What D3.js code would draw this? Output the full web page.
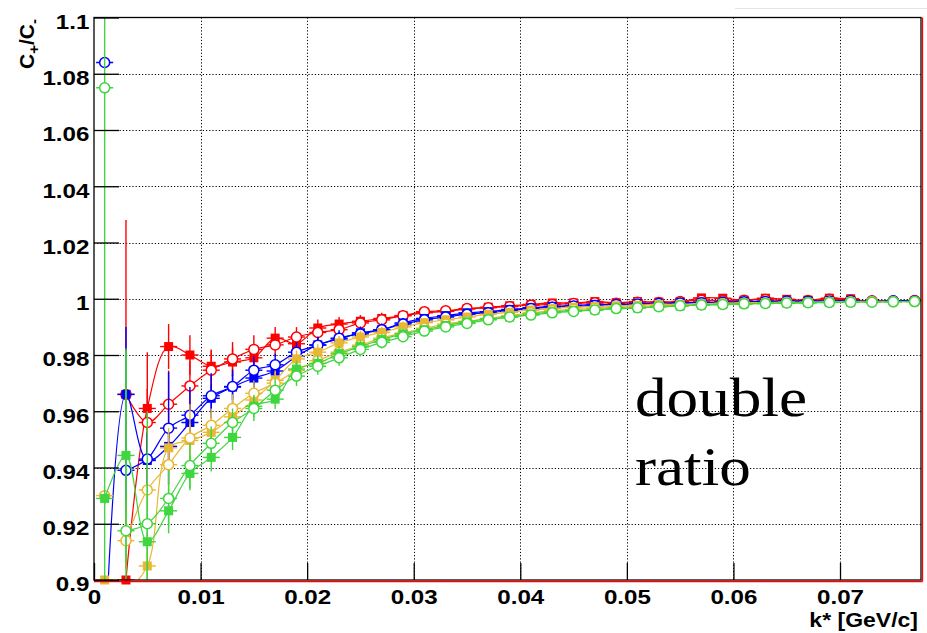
<!DOCTYPE html>
<html lang="en">
<head>
<meta charset="UTF-8">
<title>Double ratio C+/C-</title>
<style>
  body { margin: 0; background: #fff; overflow: hidden; }
  svg { display: block; }
  .axis text { font-family: "Liberation Sans", Arial, sans-serif; font-weight: bold; font-size: 21px; fill: #000; }
  .grid line { stroke: #000; stroke-width: 1; stroke-dasharray: 1.2,2; }
</style>
</head>
<body>
<script src="https://cdnjs.cloudflare.com/ajax/libs/d3/7.8.5/d3.min.js"></script>
<script>
// bin centres of k* [GeV/c]
const kBins = [
  0.001, 0.003, 0.005, 0.007, 0.009, 0.011, 0.013, 0.015, 0.017, 0.019,
  0.021, 0.023, 0.025, 0.027, 0.029, 0.031, 0.033, 0.035, 0.037, 0.039,
  0.041, 0.043, 0.045, 0.047, 0.049, 0.051, 0.053, 0.055, 0.057, 0.059,
  0.061, 0.063, 0.065, 0.067, 0.069, 0.071, 0.073, 0.075, 0.077
];

const xTickValues = [0, 0.01, 0.02, 0.03, 0.04, 0.05, 0.06, 0.07];
const xTickLabels = ['0', '0.01', '0.02', '0.03', '0.04', '0.05', '0.06', '0.07'];
const yTickValues = [0.9, 0.92, 0.94, 0.96, 0.98, 1.0, 1.02, 1.04, 1.06, 1.08, 1.1];
const yTickLabels = ['0.9', '0.92', '0.94', '0.96', '0.98', '1', '1.02', '1.04', '1.06', '1.08', '1.1'];

// filled squares (36 bins) and open circles (39 bins)
const redSquares = [
  null, 0.900, 0.961, 0.983, 0.980, 0.976, 0.9775, 0.979, 0.986, 0.984,
  0.9896, 0.991, 0.992, 0.993, 0.994, 0.995, 0.9955, 0.9964, 0.997, 0.9975,
  0.998, 0.9985, 0.9985, 0.999, 0.9986, 0.999, 0.9988, 0.999, 1.0003, 1.0002,
  0.9995, 1.0002, 0.9998, 0.9995, 1.0002, 1.0
];
const redSquaresErr = [
  0, 0, 0.02, 0.008, 0.007, 0.006, 0.005, 0.004, 0.004, 0.003,
  0.003, 0.0025, 0.0022, 0.002, 0.0018, 0.0016, 0.0015, 0.0014, 0.0013, 0.0012,
  0.0012, 0.0011, 0.0011, 0.001, 0.001, 0.001, 0.001, 0.001, 0.001, 0.001,
  0.001, 0.001, 0.001, 0.001, 0.001, 0.001
];
const redCircles = [
  null, 0.966, 0.956, 0.9625, 0.969, 0.9746, 0.9786, 0.982, 0.9836, 0.9864,
  0.988, 0.989, 0.9914, 0.9925, 0.994, 0.9954, 0.9957, 0.9965, 0.9968, 0.9972,
  0.9977, 0.998, 0.9983, 0.9986, 0.9984, 0.9988, 0.9987, 0.999, 0.9995, 0.9993,
  0.9995, 0.9997, 0.9993, 0.9994, 0.9998, 0.9996, 0.9993, 0.9992, 0.9994
];
const redCirclesErr = [
  0, 0.062, 0.012, 0.012, 0.009, 0.007, 0.006, 0.005, 0.004, 0.0035,
  0.003, 0.0028, 0.0025, 0.0022, 0.002, 0.0018, 0.0017, 0.0016, 0.0015, 0.0014,
  0.0013, 0.0013, 0.0012, 0.0012, 0.0011, 0.0011, 0.0011, 0.001, 0.001, 0.001,
  0.001, 0.001, 0.001, 0.001, 0.001, 0.001, 0.001, 0.001, 0.001
];

const blueSquares = [
  0.870, 0.966, 0.9425, 0.9475, 0.956, 0.9646, 0.9686, 0.9718, 0.9743, 0.9795,
  0.9836, 0.9857, 0.9879, 0.989, 0.9914, 0.993, 0.994, 0.995, 0.9954, 0.9962,
  0.9968, 0.9973, 0.9976, 0.998, 0.9978, 0.9983, 0.9982, 0.9985, 0.9988, 0.9987,
  0.999, 0.9991, 0.999, 0.9992, 0.9993, 0.9994
];
const blueSquaresErr = [
  0, 0.024, 0.01, 0.008, 0.006, 0.005, 0.0045, 0.004, 0.0035, 0.003,
  0.0028, 0.0025, 0.0022, 0.002, 0.0018, 0.0016, 0.0015, 0.0014, 0.0013, 0.0012,
  0.0012, 0.0011, 0.0011, 0.001, 0.001, 0.001, 0.001, 0.001, 0.001, 0.001,
  0.001, 0.001, 0.001, 0.001, 0.001, 0.001
];
const blueCircles = [
  1.084, 0.939, 0.943, 0.954, 0.9586, 0.9655, 0.9688, 0.9746, 0.9765, 0.981,
  0.9835, 0.986, 0.9875, 0.989, 0.991, 0.9925, 0.9935, 0.9945, 0.995, 0.9958,
  0.9965, 0.997, 0.9974, 0.9976, 0.998, 0.9981, 0.9983, 0.9985, 0.9986, 0.9988,
  0.9989, 0.999, 0.9992, 0.999, 0.9992, 0.9993, 0.9991, 0.9993, 0.9992
];
const blueCirclesErr = [
  0.002, 0.01, 0.009, 0.02, 0.01, 0.008, 0.006, 0.005, 0.004, 0.0035,
  0.003, 0.0028, 0.0025, 0.0022, 0.002, 0.0018, 0.0017, 0.0016, 0.0015, 0.0014,
  0.0013, 0.0013, 0.0012, 0.0012, 0.0011, 0.0011, 0.0011, 0.001, 0.001, 0.001,
  0.001, 0.001, 0.001, 0.001, 0.001, 0.001, 0.001, 0.001, 0.001
];

const orangeSquares = [
  0.900, 0.897, 0.905, 0.947, 0.9496, 0.9525, 0.958, 0.964, 0.971, 0.9786,
  0.981, 0.9843, 0.9864, 0.988, 0.990, 0.9915, 0.9925, 0.9935, 0.9945, 0.9952,
  0.996, 0.9965, 0.997, 0.9972, 0.9975, 0.9977, 0.998, 0.998, 0.9982, 0.9984,
  0.9985, 0.9986, 0.9988, 0.9987, 0.999, 0.999
];
const orangeSquaresErr = [
  0, 0, 0.012, 0.007, 0.006, 0.005, 0.0045, 0.004, 0.0035, 0.003,
  0.0028, 0.0025, 0.0022, 0.002, 0.0018, 0.0016, 0.0015, 0.0014, 0.0013, 0.0012,
  0.0012, 0.0011, 0.0011, 0.001, 0.001, 0.001, 0.001, 0.001, 0.001, 0.001,
  0.001, 0.001, 0.001, 0.001, 0.001, 0.001
];
const orangeCircles = [
  0.930, 0.914, 0.932, 0.941, 0.9505, 0.955, 0.961, 0.9664, 0.970, 0.9745,
  0.978, 0.981, 0.9835, 0.986, 0.9878, 0.9895, 0.991, 0.992, 0.993, 0.994,
  0.995, 0.9957, 0.9962, 0.9966, 0.997, 0.9972, 0.9975, 0.9977, 0.998, 0.9981,
  0.9983, 0.9985, 0.9986, 0.9987, 0.9988, 0.9989, 0.999, 0.999, 0.999
];
const orangeCirclesErr = [
  0.002, 0.01, 0.01, 0.008, 0.012, 0.006, 0.005, 0.0045, 0.004, 0.0035,
  0.003, 0.0028, 0.0025, 0.0022, 0.002, 0.0018, 0.0017, 0.0016, 0.0015, 0.0014,
  0.0013, 0.0013, 0.0012, 0.0012, 0.0011, 0.0011, 0.0011, 0.001, 0.001, 0.001,
  0.001, 0.001, 0.001, 0.001, 0.001, 0.001, 0.001, 0.001, 0.001
];

const greenSquares = [
  0.929, 0.9443, 0.9136, 0.9246, 0.9379, 0.9436, 0.9507, 0.9618, 0.9643, 0.975,
  0.977, 0.9805, 0.983, 0.9855, 0.9875, 0.989, 0.9905, 0.9918, 0.9928, 0.9935,
  0.9945, 0.9953, 0.9958, 0.996, 0.9966, 0.9967, 0.9972, 0.9974, 0.9978, 0.998,
  0.9982, 0.9984, 0.9985, 0.9986, 0.9987, 0.9988
];
const greenSquaresErr = [
  0.002, 0.038, 0.02, 0.008, 0.006, 0.005, 0.0045, 0.004, 0.0035, 0.003,
  0.0028, 0.0025, 0.0022, 0.002, 0.0018, 0.0016, 0.0015, 0.0014, 0.0013, 0.0012,
  0.0012, 0.0011, 0.0011, 0.001, 0.001, 0.001, 0.001, 0.001, 0.001, 0.001,
  0.001, 0.001, 0.001, 0.001, 0.001, 0.001
];
const greenCircles = [
  1.075, 0.9175, 0.920, 0.929, 0.9407, 0.9486, 0.956, 0.961, 0.9675, 0.9725,
  0.976, 0.979, 0.982, 0.9845, 0.9865, 0.9885, 0.990, 0.9912, 0.9925, 0.9935,
  0.9942, 0.995, 0.9955, 0.996, 0.9965, 0.9968, 0.9972, 0.9975, 0.9978, 0.998,
  0.9982, 0.9983, 0.9985, 0.9986, 0.9987, 0.9988, 0.9988, 0.9989, 0.999
];
const greenCirclesErr = [
  0.2, 0.064, 0.04, 0.01, 0.008, 0.006, 0.005, 0.0045, 0.004, 0.0035,
  0.003, 0.0028, 0.0025, 0.0022, 0.002, 0.0018, 0.0017, 0.0016, 0.0015, 0.0014,
  0.0013, 0.0013, 0.0012, 0.0012, 0.0011, 0.0011, 0.0011, 0.001, 0.001, 0.001,
  0.001, 0.001, 0.001, 0.001, 0.001, 0.001, 0.001, 0.001, 0.001
];

const width = 927, height = 633;
const frame = { left: 94, right: 921, top: 17.5, bottom: 580 };
const xErrHalf = 0.0008;

const x = d3.scaleLinear().domain([0, 0.0776]).range([frame.left, frame.right]);
const y = d3.scaleLinear().domain([0.9, 1.1]).range([frame.bottom, frame.top]);

const series = [
  { color: '#ff0000', marker: 'square', values: redSquares, errors: redSquaresErr },
  { color: '#ff0000', marker: 'circle', values: redCircles, errors: redCirclesErr },
  { color: '#0000ff', marker: 'square', values: blueSquares, errors: blueSquaresErr },
  { color: '#0000ff', marker: 'circle', values: blueCircles, errors: blueCirclesErr },
  { color: '#e8b733', marker: 'square', values: orangeSquares, errors: orangeSquaresErr },
  { color: '#e8b733', marker: 'circle', values: orangeCircles, errors: orangeCirclesErr },
  { color: '#3fd63f', marker: 'square', values: greenSquares, errors: greenSquaresErr },
  { color: '#3fd63f', marker: 'circle', values: greenCircles, errors: greenCirclesErr }
];
series.forEach(s => {
  s.points = s.values
    .map((v, i) => ({ k: kBins[i], v: v, e: s.errors[i], i: i }))
    .filter(p => p.v !== null);
});

const svg = d3.select('body').append('svg')
  .attr('width', width)
  .attr('height', height);

svg.append('defs').append('clipPath').attr('id', 'frameClip')
  .append('rect')
  .attr('x', frame.left).attr('y', frame.top)
  .attr('width', frame.right - frame.left)
  .attr('height', frame.bottom - frame.top);

// faint remnant line top right
svg.append('line')
  .attr('x1', 735).attr('x2', width).attr('y1', 8.5).attr('y2', 8.5)
  .attr('stroke', '#e4e4e4').attr('stroke-width', 1);

// grid
const grid = svg.append('g').attr('class', 'grid');
grid.selectAll('.gx')
  .data(xTickValues.filter(d => d > 0))
  .enter().append('line')
  .attr('x1', d => Math.round(x(d)) + 0.5).attr('x2', d => Math.round(x(d)) + 0.5)
  .attr('y1', frame.top).attr('y2', frame.bottom);
grid.selectAll('.gy')
  .data(yTickValues.filter(d => d > 0.9 && d < 1.1))
  .enter().append('line')
  .attr('x1', frame.left).attr('x2', frame.right)
  .attr('y1', d => Math.round(y(d)) + 0.5).attr('y2', d => Math.round(y(d)) + 0.5);

// data
const plot = svg.append('g');
const lineGen = d3.line()
  .x(d => x(d.k))
  .y(d => y(d.v))
  .curve(d3.curveCatmullRom.alpha(0.5));

series.forEach(s => {
  const g = plot.append('g');
  const linePts = s.marker === 'circle' ? s.points.filter(p => p.i >= 1) : s.points;
  g.append('path')
    .datum(linePts)
    .attr('clip-path', 'url(#frameClip)')
    .attr('fill', 'none')
    .attr('stroke', s.color)
    .attr('stroke-width', 1.2)
    .attr('d', lineGen);

  const eb = g.append('g').attr('clip-path', 'url(#frameClip)')
    .attr('stroke', s.color).attr('stroke-width', 1.4);
  eb.selectAll('.ev')
    .data(s.points.filter(p => p.e > 0))
    .enter().append('line')
    .attr('x1', d => x(d.k)).attr('x2', d => x(d.k))
    .attr('y1', d => y(d.v - d.e)).attr('y2', d => y(d.v + d.e));
  eb.selectAll('.eh')
    .data(s.points)
    .enter().append('line')
    .attr('x1', d => x(d.k - xErrHalf)).attr('x2', d => x(d.k + xErrHalf))
    .attr('y1', d => y(d.v)).attr('y2', d => y(d.v));

  const visible = s.points.filter(p => p.v >= 0.9 && p.v <= 1.1);
  if (s.marker === 'square') {
    g.selectAll('.m')
      .data(visible)
      .enter().append('rect')
      .attr('x', d => x(d.k) - 4.5).attr('y', d => y(d.v) - 4.5)
      .attr('width', 9).attr('height', 9)
      .attr('fill', s.color);
  } else {
    g.selectAll('.m')
      .data(visible)
      .enter().append('circle')
      .attr('cx', d => x(d.k)).attr('cy', d => y(d.v))
      .attr('r', 5)
      .attr('fill', '#fff')
      .attr('stroke', s.color)
      .attr('stroke-width', 1.5);
  }
});

// frame and red overlay lines
svg.append('rect')
  .attr('x', frame.left).attr('y', frame.top)
  .attr('width', frame.right - frame.left)
  .attr('height', frame.bottom - frame.top)
  .attr('fill', 'none').attr('stroke', '#000').attr('stroke-width', 1.3);
svg.append('line')
  .attr('x1', frame.left).attr('x2', frame.right + 1.5)
  .attr('y1', frame.bottom + 1.5).attr('y2', frame.bottom + 1.5)
  .attr('stroke', '#ff0000').attr('stroke-width', 1.3);
svg.append('line')
  .attr('x1', frame.right + 1.5).attr('x2', frame.right + 1.5)
  .attr('y1', frame.top).attr('y2', frame.bottom + 1.5)
  .attr('stroke', '#ff0000').attr('stroke-width', 1.3);

// axes (ticks pointing inward, ROOT style)
const stretch = 'scale(1.15,1)';
const xAxisG = svg.append('g').attr('class', 'axis')
  .attr('transform', `translate(0,${frame.bottom})`);
xAxisG.call(d3.axisBottom(x).tickValues(x.ticks(39)).tickSizeInner(-8.5).tickSizeOuter(0).tickFormat(''));
xAxisG.call(d3.axisBottom(x).tickValues(xTickValues)
  .tickSizeInner(-17).tickSizeOuter(0).tickPadding(9)
  .tickFormat((d, i) => xTickLabels[i]));
xAxisG.selectAll('.domain').remove();
xAxisG.selectAll('line').attr('stroke', '#000').attr('stroke-width', 1.3);
xAxisG.selectAll('text').attr('transform', stretch);

const yAxisG = svg.append('g').attr('class', 'axis')
  .attr('transform', `translate(${frame.left},0)`);
yAxisG.call(d3.axisLeft(y).tickValues(y.ticks(40)).tickSizeInner(-12.5).tickSizeOuter(0).tickFormat(''));
yAxisG.call(d3.axisLeft(y).tickValues(yTickValues)
  .tickSizeInner(-25).tickSizeOuter(0).tickPadding(4)
  .tickFormat((d, i) => yTickLabels[i]));
yAxisG.selectAll('.domain').remove();
yAxisG.selectAll('line').attr('stroke', '#000').attr('stroke-width', 1.3);
yAxisG.selectAll('text').attr('dy', '0.52em').attr('transform', stretch);

// axis titles
svg.append('text')
  .attr('transform', `translate(918,627) ${stretch}`)
  .attr('text-anchor', 'end')
  .style('font-family', '"Liberation Sans", Arial, sans-serif')
  .style('font-weight', 'bold').style('font-size', '20px')
  .text('k* [GeV/c]');

const yTitle = svg.append('text')
  .attr('transform', 'translate(34,19) rotate(-90)')
  .attr('text-anchor', 'end')
  .style('font-family', '"Liberation Sans", Arial, sans-serif')
  .style('font-weight', 'bold').style('font-size', '21px');
yTitle.append('tspan').text('C');
yTitle.append('tspan').attr('dy', 5).style('font-size', '15px').text('+');
yTitle.append('tspan').attr('dy', -5).text('/C');
yTitle.append('tspan').attr('dy', 5).style('font-size', '15px').text('-');

// annotation
const note = svg.append('text')
  .attr('transform', 'translate(635,0) scale(1.15,1)')
  .style('font-family', '"Liberation Serif", "Times New Roman", serif')
  .style('font-size', '55px')
  .attr('fill', '#000');
note.append('tspan').attr('x', 0).attr('y', 416).text('double');
note.append('tspan').attr('x', 0).attr('y', 485).text('ratio');
</script>
</body>
</html>
